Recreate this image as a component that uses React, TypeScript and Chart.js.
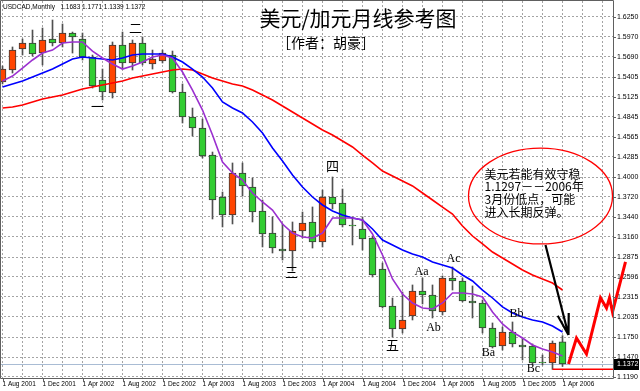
import React, { useEffect, useRef } from 'react';
import { Chart, registerables } from 'chart.js';

Chart.register(...registerables);

// ---------------- data ----------------
const xTickLabels = ['1 Aug 2001', '1 Dec 2001', '1 Apr 2002', '1 Aug 2002', '1 Dec 2002', '1 Apr 2003', '1 Aug 2003', '1 Dec 2003', '1 Apr 2004', '1 Aug 2004', '1 Dec 2004', '1 Apr 2005', '1 Aug 2005', '1 Dec 2005', '1 Apr 2006'];
const yTickValues = [1.625, 1.597, 1.569, 1.5405, 1.5125, 1.4845, 1.4565, 1.4285, 1.4, 1.372, 1.344, 1.316, 1.2875, 1.2596, 1.2315, 1.2035, 1.175, 1.147, 1.119];

// monthly candles, Aug 2001 .. Apr 2006
const opens = [1.5335, 1.5503, 1.5798, 1.5883, 1.5742, 1.5939, 1.5883, 1.6023, 1.5939, 1.5686, 1.5363, 1.5180, 1.5855, 1.5602, 1.5883, 1.5588, 1.5630, 1.5714, 1.5194, 1.4843, 1.4688, 1.4309, 1.3719, 1.3466, 1.4056, 1.3860, 1.3522, 1.3213, 1.2988, 1.2960, 1.3241, 1.3368, 1.3087, 1.3719, 1.3635, 1.3326, 1.3269, 1.3143, 1.2707, 1.2188, 1.1864, 1.2047, 1.2398, 1.2342, 1.2103, 1.2581, 1.2539, 1.2258, 1.2230, 1.1878, 1.1626, 1.1822, 1.1640, 1.1626, 1.1401, 1.1387, 1.1683];
const highs = [1.5560, 1.5827, 1.5939, 1.6065, 1.6093, 1.6206, 1.6150, 1.6037, 1.6023, 1.5714, 1.5517, 1.5897, 1.6037, 1.5925, 1.5967, 1.5784, 1.5784, 1.5770, 1.5307, 1.4969, 1.4815, 1.4351, 1.3789, 1.4197, 1.4197, 1.3986, 1.3677, 1.3438, 1.3340, 1.3368, 1.3508, 1.3579, 1.3817, 1.4000, 1.3831, 1.3438, 1.3438, 1.3171, 1.2792, 1.2300, 1.2384, 1.2483, 1.2581, 1.2483, 1.2609, 1.2736, 1.2581, 1.2469, 1.2272, 1.1949, 1.1893, 1.1963, 1.1738, 1.1654, 1.1499, 1.1696, 1.1771];
const lows = [1.5307, 1.5461, 1.5714, 1.5700, 1.5574, 1.5841, 1.5827, 1.5742, 1.5644, 1.5250, 1.5082, 1.5110, 1.5517, 1.5503, 1.5574, 1.5517, 1.5602, 1.5180, 1.4759, 1.4576, 1.4267, 1.3410, 1.3298, 1.3340, 1.3733, 1.3368, 1.3017, 1.2932, 1.2834, 1.2679, 1.3143, 1.3002, 1.3017, 1.3550, 1.3298, 1.3045, 1.2974, 1.2595, 1.2159, 1.1752, 1.1808, 1.1991, 1.2216, 1.2019, 1.2061, 1.2412, 1.2244, 1.2019, 1.1808, 1.1597, 1.1569, 1.1612, 1.1429, 1.1359, 1.1359, 1.1297, 1.1339];
const closes = [1.5517, 1.5784, 1.5883, 1.5728, 1.5925, 1.5883, 1.6023, 1.5967, 1.5686, 1.5279, 1.5194, 1.5855, 1.5602, 1.5883, 1.5602, 1.5658, 1.5742, 1.5194, 1.4843, 1.4688, 1.4295, 1.3677, 1.3466, 1.4056, 1.3874, 1.3508, 1.3199, 1.3002, 1.2960, 1.3241, 1.3354, 1.3087, 1.3719, 1.3621, 1.3326, 1.3312, 1.3129, 1.2623, 1.2174, 1.1864, 1.1991, 1.2398, 1.2342, 1.2117, 1.2581, 1.2539, 1.2258, 1.2230, 1.1878, 1.1612, 1.1822, 1.1654, 1.1612, 1.1387, 1.1387, 1.1668, 1.1372];

// moving averages
const maPurple = [1.5349, 1.5419, 1.5531, 1.5644, 1.5742, 1.5784, 1.5883, 1.5897, 1.5897, 1.5770, 1.5672, 1.5588, 1.5517, 1.5560, 1.5616, 1.5686, 1.5714, 1.5672, 1.5475, 1.5222, 1.4941, 1.4590, 1.4211, 1.4056, 1.3958, 1.3775, 1.3649, 1.3536, 1.3340, 1.3213, 1.3157, 1.3143, 1.3213, 1.3424, 1.3424, 1.3424, 1.3396, 1.3199, 1.2904, 1.2567, 1.2356, 1.2230, 1.2159, 1.2145, 1.2230, 1.2370, 1.2370, 1.2356, 1.2314, 1.2103, 1.1935, 1.1822, 1.1738, 1.1640, 1.1583, 1.1541, 1.1485];
const maBlue = [1.5265, 1.5307, 1.5349, 1.5405, 1.5461, 1.5517, 1.5588, 1.5658, 1.5686, 1.5672, 1.5658, 1.5644, 1.5672, 1.5714, 1.5728, 1.5728, 1.5728, 1.5686, 1.5616, 1.5517, 1.5405, 1.5250, 1.5054, 1.4969, 1.4899, 1.4773, 1.4618, 1.4407, 1.4225, 1.4028, 1.3860, 1.3719, 1.3607, 1.3522, 1.3466, 1.3424, 1.3396, 1.3269, 1.3115, 1.3045, 1.2974, 1.2918, 1.2876, 1.2806, 1.2764, 1.2721, 1.2623, 1.2539, 1.2412, 1.2300, 1.2174, 1.2089, 1.2033, 1.1991, 1.1963, 1.1907, 1.1822];
const maRed = [1.4969, 1.4984, 1.5012, 1.5054, 1.5096, 1.5124, 1.5152, 1.5194, 1.5236, 1.5265, 1.5293, 1.5321, 1.5349, 1.5391, 1.5419, 1.5447, 1.5475, 1.5503, 1.5517, 1.5503, 1.5447, 1.5391, 1.5349, 1.5307, 1.5279, 1.5222, 1.5152, 1.5082, 1.4998, 1.4913, 1.4829, 1.4745, 1.4660, 1.4590, 1.4506, 1.4422, 1.4309, 1.4197, 1.4084, 1.4014, 1.3944, 1.3874, 1.3775, 1.3677, 1.3578, 1.3480, 1.3312, 1.3171, 1.3059, 1.2946, 1.2862, 1.2778, 1.2693, 1.2623, 1.2567, 1.2511, 1.2412];

// support level and hand-drawn projection
const supportLevel = 1.1297;
const supportSpan = [55, 63.6];
const forecastX = [56.6, 57.4, 58.4, 59.8, 60.4, 60.7, 61.0, 62.3];
const forecastY = [1.1372, 1.1738, 1.1513, 1.2300, 1.2159, 1.2300, 1.2103, 1.2806];

// wave labels
const waveText = ['一', '二', '三', '四', '五'];
const waveX = [9.5, 13.3, 28.9, 33.0, 39.0];
const waveY = [1.4998, 1.6094, 1.2665, 1.4155, 1.1639];
const subText = ['Aa', 'Ab', 'Ac', 'Ba', 'Bb', 'Bc'];
const subX = [41.9, 43.1, 45.1, 48.6, 51.4, 53.1];
const subY = [1.2665, 1.1878, 1.2848, 1.1527, 1.2075, 1.1302];

// note bubble and arrow
const noteLines = ['美元若能有效守稳', '1.1297－－2006年', '3月份低点，可能', '进入长期反弹。'];
const noteCenter = [53.8, 1.3733];
const noteHalf = [7.2, 0.0674];
const arrowFrom = [54.3, 1.3045];
const arrowTo = [56.6, 1.178];

const titleText = '美元/加元月线参考图';
const subtitleText = '［作者：胡豪］';
const symbolText = 'USDCAD,Monthly';

const ORANGE = '#FF4500';
const GREEN = '#32CD32';
const CJK = '"Noto Sans CJK SC", sans-serif';

const months = opens.map((_, i) => i);

const overlay = {
  id: 'overlay',
  beforeDatasetsDraw(chart: any) {
    const { ctx, chartArea: a, scales } = chart;
    const y = scales.y;
    const last = closes[closes.length - 1];
    const py = Math.round(y.getPixelForValue(last)) + 0.5;
    ctx.save();
    ctx.strokeStyle = '#a9bcd4';
    ctx.lineWidth = 1;
    ctx.beginPath();
    ctx.moveTo(a.left, py);
    ctx.lineTo(a.right, py);
    ctx.stroke();
    ctx.restore();
  },
  afterDatasetsDraw(chart: any) {
    const { ctx, scales } = chart;
    const x = scales.x;
    const y = scales.y;
    ctx.save();
    ctx.fillStyle = '#000';
    ctx.textAlign = 'center';
    ctx.textBaseline = 'middle';
    ctx.font = '13px ' + CJK;
    waveText.forEach((t, i) => ctx.fillText(t, x.getPixelForValue(waveX[i]), y.getPixelForValue(waveY[i])));
    ctx.font = '12px "Liberation Serif", serif';
    subText.forEach((t, i) => ctx.fillText(t, x.getPixelForValue(subX[i]), y.getPixelForValue(subY[i])));

    // ellipse
    const cx = x.getPixelForValue(noteCenter[0]);
    const cy = y.getPixelForValue(noteCenter[1]);
    const rx = x.getPixelForValue(noteCenter[0] + noteHalf[0]) - cx;
    const ry = cy - y.getPixelForValue(noteCenter[1] + noteHalf[1]);
    ctx.strokeStyle = '#ff0000';
    ctx.lineWidth = 1.3;
    ctx.beginPath();
    ctx.ellipse(cx, cy, rx, ry, 0, 0, Math.PI * 2);
    ctx.stroke();
    ctx.font = '12px ' + CJK;
    ctx.textAlign = 'left';
    ctx.fillStyle = '#000';
    const offs = [-22, -9.5, 3, 16];
    noteLines.forEach((t, i) => ctx.fillText(t, cx - 56, cy + offs[i]));

    // arrow
    const ax0 = x.getPixelForValue(arrowFrom[0]);
    const ay0 = y.getPixelForValue(arrowFrom[1]);
    const ax1 = x.getPixelForValue(arrowTo[0]);
    const ay1 = y.getPixelForValue(arrowTo[1]);
    ctx.strokeStyle = '#000';
    ctx.lineWidth = 2.2;
    ctx.beginPath();
    ctx.moveTo(ax0, ay0);
    ctx.lineTo(ax1, ay1);
    const ang = Math.atan2(ay0 - ay1, ax0 - ax1);
    const len = 22;
    for (const d of [-0.26, 0.26]) {
      ctx.moveTo(ax1, ay1);
      ctx.lineTo(ax1 + len * Math.cos(ang + d), ay1 + len * Math.sin(ang + d));
    }
    ctx.stroke();
    ctx.restore();
  },
  afterDraw(chart: any) {
    const { ctx, chartArea: a, scales } = chart;
    const x = scales.x;
    const y = scales.y;
    ctx.save();
    // frame
    ctx.strokeStyle = '#606060';
    ctx.lineWidth = 1;
    ctx.beginPath();
    ctx.moveTo(a.left + 0.5, a.top - 0.5);
    ctx.lineTo(a.right + 0.5, a.top - 0.5);
    ctx.lineTo(a.right + 0.5, a.bottom + 0.5);
    ctx.lineTo(a.left + 0.5, a.bottom + 0.5);
    ctx.closePath();
    ctx.stroke();
    // small ticks under labels
    ctx.beginPath();
    xTickLabels.forEach((_, i) => {
      const px = Math.round(x.getPixelForValue(i * 4)) + 0.5;
      ctx.moveTo(px, a.bottom);
      ctx.lineTo(px, a.bottom + 4);
    });
    yTickValues.forEach((v) => {
      const py = Math.round(y.getPixelForValue(v)) + 0.5;
      ctx.moveTo(a.right, py);
      ctx.lineTo(a.right + 3, py);
    });
    ctx.stroke();

    // current price box
    const last = closes[closes.length - 1];
    const py = Math.round(y.getPixelForValue(last));
    ctx.fillStyle = '#000';
    ctx.fillRect(a.right + 1, py - 5, 25, 11);
    ctx.fillStyle = '#fff';
    ctx.font = '7px "Liberation Sans", sans-serif';
    ctx.textAlign = 'left';
    ctx.textBaseline = 'middle';
    ctx.fillText(last.toFixed(4), a.right + 4, py + 0.5);

    // symbol line
    ctx.fillStyle = '#000';
    ctx.font = '6.5px "Liberation Sans", sans-serif';
    const n = closes.length - 1;
    const info = symbolText + '   ' + [opens[n], highs[n], lows[n], closes[n]].map((v) => v.toFixed(4)).join(' ');
    ctx.fillText(info, a.left + 3, 7);

    // titles
    ctx.textAlign = 'center';
    ctx.font = '21px ' + CJK;
    ctx.fillText(titleText, 358, 18);
    ctx.font = '14px ' + CJK;
    ctx.fillText(subtitleText, 326, 43);
    ctx.restore();
  },
};

export default function App() {
  const ref = useRef<HTMLCanvasElement | null>(null);
  useEffect(() => {
    if (!ref.current) return;
    const candleColors = months.map((i) => (closes[i] >= opens[i] ? ORANGE : GREEN));
    const chart = new Chart(ref.current, {
      type: 'bar',
      data: {
        datasets: [
          {
            type: 'line',
            data: months.map((i) => ({ x: i, y: maPurple[i] })),
            borderColor: '#9b30d0',
            borderWidth: 1.6,
            pointRadius: 0,
            tension: 0,
            order: 1,
          } as any,
          {
            type: 'line',
            data: months.map((i) => ({ x: i, y: maBlue[i] })),
            borderColor: '#0000ff',
            borderWidth: 1.6,
            pointRadius: 0,
            tension: 0,
            order: 1,
          } as any,
          {
            type: 'line',
            data: months.map((i) => ({ x: i, y: maRed[i] })),
            borderColor: '#ff0000',
            borderWidth: 1.6,
            pointRadius: 0,
            tension: 0,
            order: 1,
          } as any,
          {
            type: 'line',
            data: supportSpan.map((k) => ({ x: k, y: supportLevel })),
            borderColor: '#ff0000',
            borderWidth: 1.5,
            pointRadius: 0,
            clip: false,
            order: 0,
          } as any,
          {
            type: 'line',
            data: forecastX.map((k, i) => ({ x: k, y: forecastY[i] })),
            borderColor: '#ff0000',
            borderWidth: 3,
            pointRadius: 0,
            tension: 0,
            clip: false,
            order: 0,
          } as any,
          {
            type: 'bar',
            data: months.map((i) => ({ x: i, y: [opens[i], closes[i]] })),
            backgroundColor: candleColors,
            borderColor: '#3a3a3a',
            borderWidth: 1,
            borderSkipped: false,
            barThickness: 7,
            grouped: false,
            order: 2,
          } as any,
          {
            type: 'bar',
            data: months.map((i) => ({ x: i, y: [lows[i], highs[i]] })),
            backgroundColor: '#505050',
            borderWidth: 0,
            barThickness: 1,
            grouped: false,
            order: 3,
          } as any,
        ],
      },
      options: {
        responsive: false,
        animation: false,
        devicePixelRatio: 1,
        layout: { padding: { top: 1, left: 0, right: 0, bottom: 0 } },
        plugins: { legend: { display: false }, tooltip: { enabled: false }, title: { display: false } },
        scales: {
          x: {
            type: 'linear',
            position: 'bottom',
            min: -0.25,
            max: 61.05,
            offset: false,
            afterBuildTicks: (s: any) => {
              const t = [];
              for (let k = 0; k <= 60; k += 2) t.push({ value: k });
              s.ticks = t;
            },
            afterFit: (s: any) => {
              s.height = 13;
              s.paddingLeft = 0;
              s.paddingRight = 0;
            },
            grid: { color: '#a4a4a4', lineWidth: 1, drawTicks: false, offset: false },
            border: { display: false, dash: [2, 2] },
            ticks: {
              autoSkip: false,
              maxRotation: 0,
              minRotation: 0,
              align: 'start',
              padding: 2,
              color: '#000',
              font: { size: 6.5, family: '"Liberation Sans", sans-serif' },
              callback: (v: any) => {
                const k = Number(v);
                return k % 4 === 0 && k / 4 < xTickLabels.length ? xTickLabels[k / 4] : '';
              },
            },
          },
          y: {
            type: 'linear',
            position: 'right',
            min: 1.11758,
            max: 1.6473,
            afterBuildTicks: (s: any) => {
              s.ticks = yTickValues.map((v) => ({ value: v }));
            },
            afterFit: (s: any) => {
              s.width = 27;
              s.paddingTop = 0;
              s.paddingBottom = 0;
            },
            grid: { color: '#a4a4a4', lineWidth: 1, drawTicks: false },
            border: { display: false, dash: [2, 2] },
            ticks: {
              padding: 4,
              color: '#000',
              font: { size: 7, family: '"Liberation Sans", sans-serif' },
              callback: (v: any) => Number(v).toFixed(4),
            },
          },
        },
      } as any,
      plugins: [overlay],
    });
    return () => chart.destroy();
  }, []);
  return (
    <div style={{ position: 'absolute', left: 0, top: 0, width: 640, height: 391, background: '#fff' }}>
      <canvas ref={ref} width={640} height={391} style={{ display: 'block' }} />
    </div>
  );
}
